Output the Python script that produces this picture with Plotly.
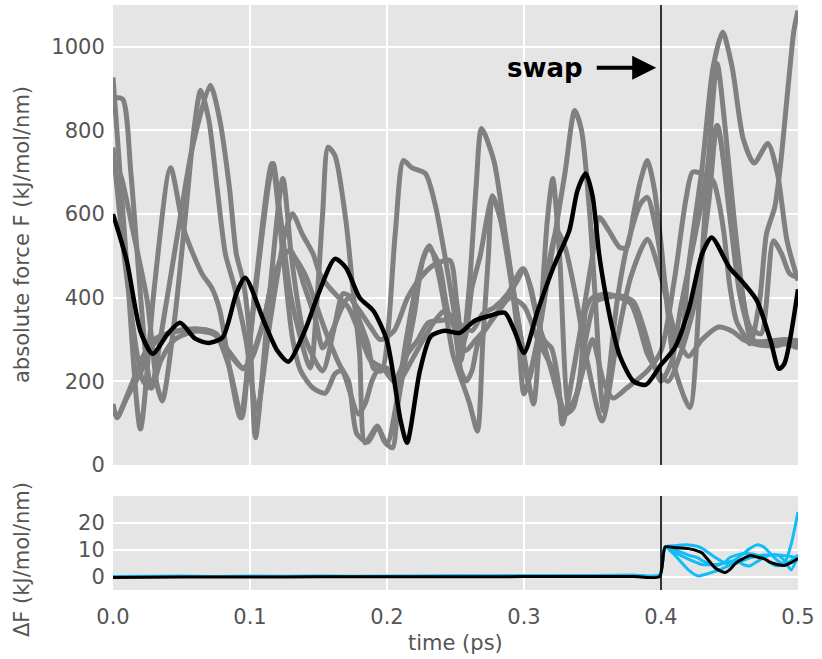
import plotly.graph_objects as go
from plotly.subplots import make_subplots

# ---------------- data ----------------
# black reference trajectory (top panel)
black_t = [0, 0.01, 0.02, 0.029, 0.04, 0.049, 0.06, 0.07, 0.08, 0.09, 0.0965, 0.11, 0.12, 0.128,
           0.14, 0.15, 0.162, 0.17, 0.18, 0.19, 0.2, 0.21, 0.2146, 0.224, 0.232, 0.242, 0.253,
           0.264, 0.275, 0.286, 0.293, 0.3, 0.31, 0.322, 0.333, 0.339, 0.345, 0.35, 0.355, 0.36,
           0.365, 0.37, 0.38, 0.389, 0.4, 0.41, 0.42, 0.43, 0.437, 0.45, 0.46, 0.47, 0.48, 0.486,
           0.49, 0.5]
black_f = [600, 489, 320, 266, 314, 340, 302, 292, 305, 410, 448, 345, 273, 247,
           321, 410, 493, 472, 400, 369, 297, 105, 53, 225, 308, 321, 316,
           345, 357, 364, 321, 268, 369, 477, 560, 656, 697, 644, 500, 400,
           320, 260, 200, 192, 240, 280, 369, 505, 544, 472, 436, 393, 297, 230,
           242, 420]

# grey trajectories (top panel)
g1_t = [0, 0.01, 0.02, 0.03, 0.042, 0.052, 0.065, 0.072, 0.078, 0.085, 0.093, 0.104, 0.116, 0.124,
        0.131, 0.137, 0.146, 0.155, 0.162, 0.167, 0.179, 0.184, 0.189, 0.193, 0.2, 0.207, 0.219,
        0.226, 0.235, 0.242, 0.25, 0.262, 0.27, 0.278, 0.288, 0.299, 0.305, 0.31, 0.315, 0.32,
        0.325, 0.328, 0.34, 0.35, 0.355, 0.362, 0.37, 0.375, 0.38, 0.385, 0.39, 0.395, 0.4,
        0.403, 0.41, 0.414, 0.42, 0.43, 0.438, 0.445, 0.452, 0.46, 0.468, 0.478, 0.485, 0.492, 0.5]
g1_f = [927, 480, 86, 420, 711, 560, 457, 424, 369, 232, 113, 430, 721, 505,
        304, 225, 184, 172, 218, 225, 122, 146, 201, 225, 232, 194, 256,
        297, 345, 369, 345, 321, 362, 376, 409, 469, 424, 345, 297, 280,
        200, 98, 300, 500, 592, 560, 520, 520, 601, 680, 728, 663, 529,
        433, 297, 285, 472, 711, 951, 1035, 950, 780, 722, 769, 697, 536, 441]

g2_t = [0, 0.007, 0.013, 0.019, 0.024, 0.028, 0.036, 0.047, 0.058, 0.071, 0.078, 0.085, 0.09,
        0.095, 0.1, 0.104, 0.114, 0.124, 0.13, 0.135, 0.14, 0.153, 0.161, 0.168, 0.174, 0.18,
        0.186, 0.19, 0.196, 0.206, 0.212, 0.218, 0.228, 0.235, 0.242, 0.25, 0.254, 0.26, 0.265,
        0.269, 0.278, 0.285, 0.292, 0.302, 0.307, 0.312, 0.317, 0.321, 0.326, 0.333, 0.34, 0.345,
        0.35, 0.36, 0.37, 0.378, 0.383, 0.39, 0.396, 0.405, 0.415, 0.425, 0.435, 0.441, 0.455,
        0.465, 0.473, 0.482, 0.488, 0.494, 0.5]
g2_f = [879, 875, 700, 450, 260, 184, 330, 550, 760, 908, 824, 663, 505,
        440, 300, 65, 400, 685, 505, 386, 304, 225, 321, 410, 400, 345,
        290, 232, 225, 553, 728, 711, 697, 625, 505, 345, 250, 424, 663,
        805, 728, 584, 424, 225, 146, 345, 584, 685, 500, 137, 184, 369,
        400, 409, 400, 386, 345, 266, 232, 200, 273, 393, 632, 812, 500,
        330, 314, 536, 505, 457, 448]

g3_t = [0, 0.005, 0.01, 0.015, 0.025, 0.032, 0.036, 0.045, 0.053, 0.059, 0.064, 0.07, 0.076,
        0.082, 0.088, 0.097, 0.105, 0.115, 0.126, 0.131, 0.138, 0.146, 0.151, 0.158, 0.165,
        0.172, 0.18, 0.188, 0.197, 0.205, 0.215, 0.222, 0.23, 0.237, 0.247, 0.254, 0.258, 0.262,
        0.267, 0.285, 0.295, 0.3, 0.31, 0.32, 0.33, 0.335, 0.345, 0.35, 0.358, 0.365, 0.375,
        0.39, 0.4, 0.41, 0.418, 0.423, 0.43, 0.438, 0.442, 0.446, 0.45, 0.455, 0.46, 0.465,
        0.472, 0.477, 0.483, 0.487, 0.493, 0.497, 0.5]
g3_f = [709, 697, 632, 553, 393, 194, 153, 350, 600, 800, 896, 824, 663,
        505, 434, 300, 129, 350, 560, 601, 553, 505, 457, 424, 400,
        376, 314, 250, 232, 200, 266, 297, 340, 345, 345, 225, 201, 225,
        297, 386, 440, 469, 345, 225, 122, 137, 250, 300, 200, 160, 184,
        225, 273, 448, 632, 700, 697, 680, 632, 553, 433, 345, 314, 290,
        393, 553, 616, 711, 912, 1039, 1087]

g4_t = [0, 0.003, 0.01, 0.02, 0.03, 0.04, 0.05, 0.06, 0.07, 0.078, 0.085, 0.095, 0.1, 0.11,
        0.117, 0.128, 0.14, 0.148, 0.155, 0.165, 0.172, 0.178, 0.186, 0.193, 0.2, 0.207, 0.214,
        0.222, 0.23, 0.238, 0.245, 0.256, 0.262, 0.268, 0.277, 0.285, 0.292, 0.298, 0.303,
        0.31, 0.318, 0.324, 0.33, 0.338, 0.346, 0.357, 0.368, 0.378, 0.39, 0.4, 0.41, 0.42,
        0.43, 0.442, 0.452, 0.46, 0.468, 0.48, 0.49, 0.5]
g4_f = [146, 113, 160, 220, 290, 314, 321, 325, 321, 300, 266, 230, 250, 345,
        448, 512, 457, 386, 321, 242, 200, 74, 55, 90, 50, 150, 300,
        440, 520, 480, 360, 297, 424, 500, 640, 560, 420, 300, 200,
        300, 480, 560, 520, 400, 250, 105, 300, 450, 540, 450, 320, 260,
        300, 330, 320, 300, 290, 285, 290, 290]

g5_t = [0, 0.01, 0.022, 0.028, 0.035, 0.045, 0.06, 0.075, 0.085, 0.094, 0.1, 0.107, 0.114, 0.117,
        0.122, 0.13, 0.144, 0.149, 0.153, 0.157, 0.162, 0.17, 0.175, 0.18, 0.184, 0.193, 0.198,
        0.204, 0.208, 0.213, 0.22, 0.226, 0.231, 0.237, 0.243, 0.248, 0.252, 0.26, 0.266, 0.27,
        0.274, 0.277, 0.282, 0.29, 0.296, 0.3, 0.31, 0.32, 0.33, 0.337, 0.342, 0.348, 0.352,
        0.358, 0.368, 0.375, 0.385, 0.39, 0.397, 0.404, 0.41, 0.421, 0.428, 0.434, 0.441, 0.447,
        0.453, 0.46, 0.466, 0.475, 0.485, 0.49, 0.5]
g5_f = [759, 450, 200, 184, 250, 300, 320, 310, 232, 113, 300, 500, 680, 721,
        600, 400, 232, 400, 600, 760, 740, 584, 424, 266, 53, 93, 57,
        41, 146, 242, 362, 489, 524, 465, 362, 266, 225, 150, 81, 300,
        500, 644, 600, 450, 300, 170, 300, 500, 700, 848, 800, 600, 400,
        129, 393, 520, 625, 640, 553, 393, 232, 137, 400, 700, 960, 800,
        600, 400, 297, 290, 285, 290, 280]

g6_t = [0, 0.003, 0.012, 0.022, 0.03, 0.045, 0.06, 0.075, 0.085, 0.095, 0.102, 0.11, 0.117, 0.125,
        0.13, 0.14, 0.148, 0.153, 0.16, 0.167, 0.172, 0.18, 0.188, 0.195, 0.205, 0.215, 0.225,
        0.235, 0.246, 0.251, 0.257, 0.265, 0.273, 0.28, 0.29, 0.3, 0.31, 0.322, 0.33, 0.336,
        0.345, 0.352, 0.36, 0.37, 0.38, 0.388, 0.395, 0.4, 0.408, 0.414, 0.428, 0.441, 0.45,
        0.458, 0.468, 0.48, 0.49, 0.5]
g6_f = [130, 117, 180, 260, 300, 320, 325, 315, 270, 232, 260, 345, 448, 505,
        512, 424, 345, 280, 321, 376, 400, 369, 330, 300, 320, 400, 450,
        480, 489, 386, 273, 300, 330, 362, 400, 380, 300, 220, 122, 137,
        300, 390, 400, 405, 390, 320, 240, 200, 250, 369, 600, 812, 600,
        400, 297, 297, 300, 297]

grey_t = [g1_t, g2_t, g3_t, g4_t, g5_t, g6_t]
grey_f = [g1_f, g2_f, g3_f, g4_f, g5_f, g6_f]

# force difference panel (bottom)
d_t = [0, 0.05, 0.1, 0.15, 0.2, 0.25, 0.3, 0.35, 0.38, 0.399, 0.403, 0.41, 0.42, 0.427, 0.43,
       0.44, 0.447, 0.45, 0.455, 0.46, 0.465, 0.47, 0.475, 0.48, 0.485, 0.49, 0.495, 0.5]
c1_f = [0, 0.1, 0, 0.1, 0.1, 0.2, 0.2, 0.4, 0.5, 0.6, 11, 11.5, 11.8, 11.2, 10.5,
        7, 5, 5, 6.5, 8.5, 10.5, 11.8, 11, 8.5, 6, 5, 12, 24]
c2_f = [0, 0, 0.1, 0, 0.1, 0.1, 0.2, 0.3, 0.4, 0.5, 11, 8, 2.5, 0.2, 0.5,
        2, 3.5, 4.2, 5, 6, 7, 7.5, 8, 8, 8, 7.8, 7.5, 7]
c3_f = [0, 0.1, 0, 0.1, 0, 0.2, 0.1, 0.3, 0.5, 0.5, 11, 9, 6.5, 5, 4.5,
        4.5, 5, 5.5, 6, 4.5, 4, 5.5, 7, 8, 8, 6, 2.5, 7.5]
c4_f = [0, 0, 0.1, 0.1, 0, 0.1, 0.2, 0.3, 0.4, 0.5, 11, 10, 8, 7, 6,
        4, 5.5, 7, 8, 8.5, 8.5, 8, 7, 5, 4, 4.5, 6, 8]
cyan_f = [c1_f, c2_f, c3_f, c4_f]
db_f = [-0.3, -0.2, -0.2, -0.1, -0.1, -0.1, 0, 0, 0, 0, 11, 10.8, 10.4, 9.5, 8.8,
        3, 1.5, 2.5, 5.2, 6.7, 7.8, 7.3, 6.7, 5.3, 4.5, 4.1, 5.2, 6.7]

x_ticks = [0.0, 0.1, 0.2, 0.3, 0.4, 0.5]
x_tick_text = ["0.0", "0.1", "0.2", "0.3", "0.4", "0.5"]
top_ticks = [0, 200, 400, 600, 800, 1000]
bot_ticks = [0, 10, 20]
swap_time = 0.4

# ---------------- figure ----------------
W, H = 822, 659
ML, MR, MT, MB = 113, 24, 5, 69
ph = H - MT - MB
top_dom = [(590 - 465) / ph, 1.0]
bot_dom = [0.0, (590 - 496) / ph]

fig = make_subplots(rows=2, cols=1, shared_xaxes=False)

GREY = "#808080"
CYAN = "#12bdf7"
for tt, ff in zip(grey_t, grey_f):
    fig.add_trace(go.Scatter(x=tt, y=ff, mode="lines",
                             line=dict(color=GREY, width=5, shape="spline", smoothing=0.7),
                             showlegend=False, hoverinfo="skip"), row=1, col=1)
fig.add_trace(go.Scatter(x=black_t, y=black_f, mode="lines",
                         line=dict(color="black", width=4.5, shape="spline", smoothing=0.7),
                         showlegend=False, hoverinfo="skip"), row=1, col=1)

for ff in cyan_f:
    fig.add_trace(go.Scatter(x=d_t, y=ff, mode="lines",
                             line=dict(color=CYAN, width=3, shape="spline", smoothing=0.6),
                             showlegend=False, hoverinfo="skip"), row=2, col=1)
fig.add_trace(go.Scatter(x=d_t, y=db_f, mode="lines",
                         line=dict(color="black", width=3, shape="spline", smoothing=0.6),
                         showlegend=False, hoverinfo="skip"), row=2, col=1)

FONT = "DejaVu Sans"
TICKC = "#555555"
axis_common = dict(showgrid=True, gridcolor="white", gridwidth=1.6, zeroline=False,
                   showline=False, ticks="outside", tickcolor="rgba(0,0,0,0)",
                   tickfont=dict(family=FONT, size=21, color=TICKC))

fig.update_xaxes(range=[0, 0.5], tickvals=x_ticks, ticktext=x_tick_text, **axis_common)
fig.update_xaxes(showticklabels=False, ticklen=0, row=1, col=1)
fig.update_xaxes(ticklen=8, row=2, col=1)
fig.update_yaxes(**axis_common)
fig.update_yaxes(range=[0, 1100], tickvals=top_ticks, ticklen=3, domain=top_dom, row=1, col=1)
fig.update_yaxes(range=[-5, 30], tickvals=bot_ticks, ticklen=3, domain=bot_dom, row=2, col=1)

fig.update_layout(
    width=W, height=H,
    margin=dict(l=ML, r=MR, t=MT, b=MB, autoexpand=False),
    plot_bgcolor="#e5e5e5", paper_bgcolor="white",
    font=dict(family=FONT, color=TICKC),
    shapes=[
        dict(type="line", xref="x", yref="y domain", x0=swap_time, x1=swap_time, y0=0, y1=1,
             line=dict(color="black", width=1.6), layer="above"),
        dict(type="line", xref="x2", yref="y2 domain", x0=swap_time, x1=swap_time, y0=0, y1=1,
             line=dict(color="black", width=1.6), layer="above"),
    ],
    annotations=[
        dict(text="absolute force F (kJ/mol/nm)", xref="paper", yref="paper",
             x=(22 - ML) / (W - ML - MR), y=(590 - 235) / ph, textangle=-90,
             showarrow=False, xanchor="center", yanchor="middle",
             font=dict(family=FONT, size=21, color=TICKC)),
        dict(text="ΔF (kJ/mol/nm)", xref="paper", yref="paper",
             x=(22 - ML) / (W - ML - MR), y=(590 - 560) / ph, textangle=-90,
             showarrow=False, xanchor="center", yanchor="middle",
             font=dict(family=FONT, size=21, color=TICKC)),
        dict(text="time (ps)", xref="paper", yref="paper",
             x=(455 - ML) / (W - ML - MR), y=(590 - 643) / ph,
             showarrow=False, xanchor="center", yanchor="middle",
             font=dict(family=FONT, size=21, color=TICKC)),
        dict(text="<b>swap</b>", xref="x", yref="y", x=0.3445, y=950,
             showarrow=False, xanchor="right", yanchor="middle",
             font=dict(family=FONT, size=26, color="black")),
        dict(text="", xref="x", yref="y", x=0.3965, y=950, ax=0.352, ay=950,
             axref="x", ayref="y", showarrow=True, arrowhead=2, arrowsize=1.2,
             arrowwidth=4, arrowcolor="black"),
    ],
)

fig.write_html("out.html", config={"displayModeBar": False},
               post_script="document.body.style.margin='0px';document.body.style.padding='0px';")
